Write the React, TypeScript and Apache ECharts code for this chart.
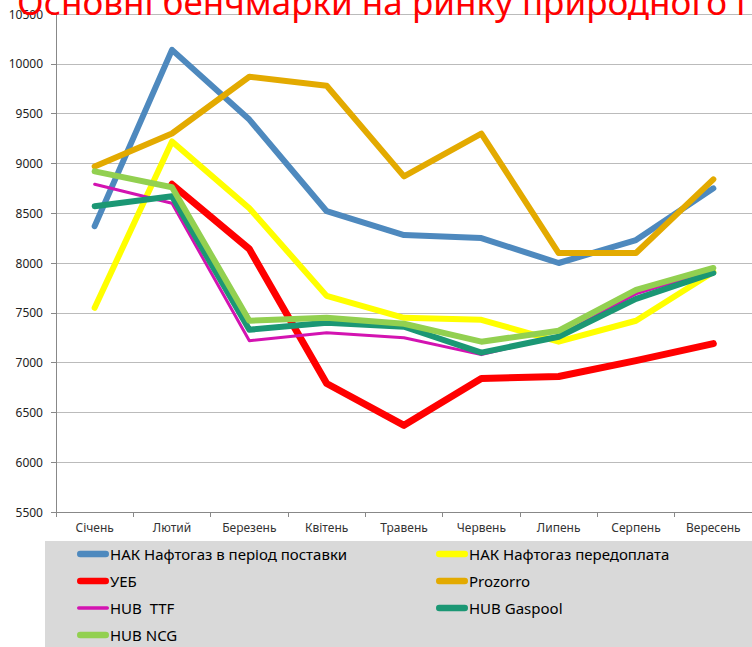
import React, { useEffect, useRef } from "react";
import * as echarts from "echarts";

const months = ["Січень", "Лютий", "Березень", "Квітень", "Травень", "Червень", "Липень", "Серпень", "Вересень"];
const nakDelivery = [8370, 10140, 9440, 8520, 8280, 8250, 8000, 8230, 8750];
const nakPrepay = [7550, 9220, 8550, 7670, 7450, 7430, 7210, 7420, 7910];
const ueb = [null, 8790, 8140, 6790, 6370, 6840, 6860, 7020, 7190];
const prozorro = [8970, 9300, 9870, 9780, 8870, 9300, 8100, 8100, 8840];
const ttf = [8790, 8600, 7220, 7300, 7250, 7080, 7270, 7690, 7930];
const gaspool = [8570, 8670, 7330, 7400, 7360, 7100, 7260, 7640, 7900];
const ncg = [8920, 8760, 7420, 7450, 7390, 7210, 7320, 7730, 7950];

const seriesDefs = [
  { name: "НАК Нафтогаз в період поставки", data: nakDelivery, color: "#4E89BE", width: 6 },
  { name: "НАК Нафтогаз передоплата", data: nakPrepay, color: "#FFFF00", width: 6 },
  { name: "УЕБ", data: ueb, color: "#FF0000", width: 7 },
  { name: "Prozorro", data: prozorro, color: "#E3AA00", width: 6 },
  { name: "HUB  TTF", data: ttf, color: "#D313B1", width: 3 },
  { name: "HUB Gaspool", data: gaspool, color: "#1B9774", width: 6 },
  { name: "HUB NCG", data: ncg, color: "#92D050", width: 6 },
];

const titleText = "Основні бенчмарки на ринку природного газу";

// legend bar icon: 32x18 box, bar centred vertically with round ends
function barIcon(thick: number) {
  const r = thick / 2;
  const y0 = 9 - r;
  const y1 = 9 + r;
  return (
    "path://M0,0 L0.01,0 L0.01,0.01 Z " +
    `M${r},${y0} L${32 - r},${y0} A${r},${r} 0 0 1 ${32 - r},${y1} L${r},${y1} A${r},${r} 0 0 1 ${r},${y0} Z ` +
    "M32,18 L31.99,18 L31.99,17.99 Z"
  );
}

export default function App() {
  const ref = useRef<HTMLDivElement>(null);
  useEffect(() => {
    if (!ref.current) return;
    const chart = echarts.init(ref.current, null, { renderer: "svg" });
    const font = '"Noto Sans", sans-serif';
    const legendItem = (i: number) => ({
      name: seriesDefs[i].name,
      icon: barIcon(seriesDefs[i].width === 3 ? 3.5 : 6.5),
    });
    const legendCommon = {
      orient: "vertical",
      top: 545,
      itemWidth: 32,
      itemHeight: 18,
      itemGap: 9,
      padding: 0,
      selectedMode: false,
      textStyle: { fontSize: 15, fontFamily: font, color: "#000", padding: [0, 0, 0, -4] },
      z: 5,
    };
    chart.setOption({
      animation: false,
      backgroundColor: "#ffffff",
      grid: { left: 56, right: -2, top: 14, bottom: 135, containLabel: false },
      graphic: [
        {
          type: "rect",
          z: 1,
          shape: { x: 45, y: 541, width: 720, height: 120 },
          style: { fill: "#D9D9D9" },
        },
        {
          type: "text",
          z: 10,
          style: {
            text: titleText,
            x: 17,
            y: 1,
            verticalAlign: "middle",
            font: '35px "Noto Sans", sans-serif',
            fill: "#FF0000",
          },
        },
      ],
      legend: [
        { ...legendCommon, left: 77, data: [0, 2, 4, 6].map(legendItem) },
        { ...legendCommon, left: 436, data: [1, 3, 5].map(legendItem) },
      ],
      xAxis: {
        type: "category",
        data: months,
        boundaryGap: true,
        axisLine: { lineStyle: { color: "#888888", width: 1 } },
        axisTick: { show: true, length: 5, lineStyle: { color: "#888888" } },
        axisLabel: { fontSize: 12, fontFamily: font, color: "#333", margin: 9 },
        splitLine: { show: false },
      },
      yAxis: {
        type: "value",
        min: 5500,
        max: 10500,
        interval: 500,
        axisLine: { show: true, lineStyle: { color: "#888888", width: 1 } },
        axisTick: { show: true, length: 5, lineStyle: { color: "#888888" } },
        axisLabel: {
          fontSize: 12,
          fontFamily: font,
          color: "#222",
          margin: 13,
          formatter: (v: number) => String(v),
        },
        splitLine: { show: true, lineStyle: { color: "#BBBBBB", width: 1 } },
      },
      series: seriesDefs.map((s) => ({
        name: s.name,
        type: "line",
        data: s.data,
        symbol: "none",
        connectNulls: false,
        color: s.color,
        itemStyle: { color: s.color },
        lineStyle: { color: s.color, width: s.width, cap: "round", join: "round" },
      })),
    });
    return () => chart.dispose();
  }, []);
  return <div ref={ref} style={{ position: "fixed", left: 0, top: 0, width: 752, height: 647 }} />;
}
